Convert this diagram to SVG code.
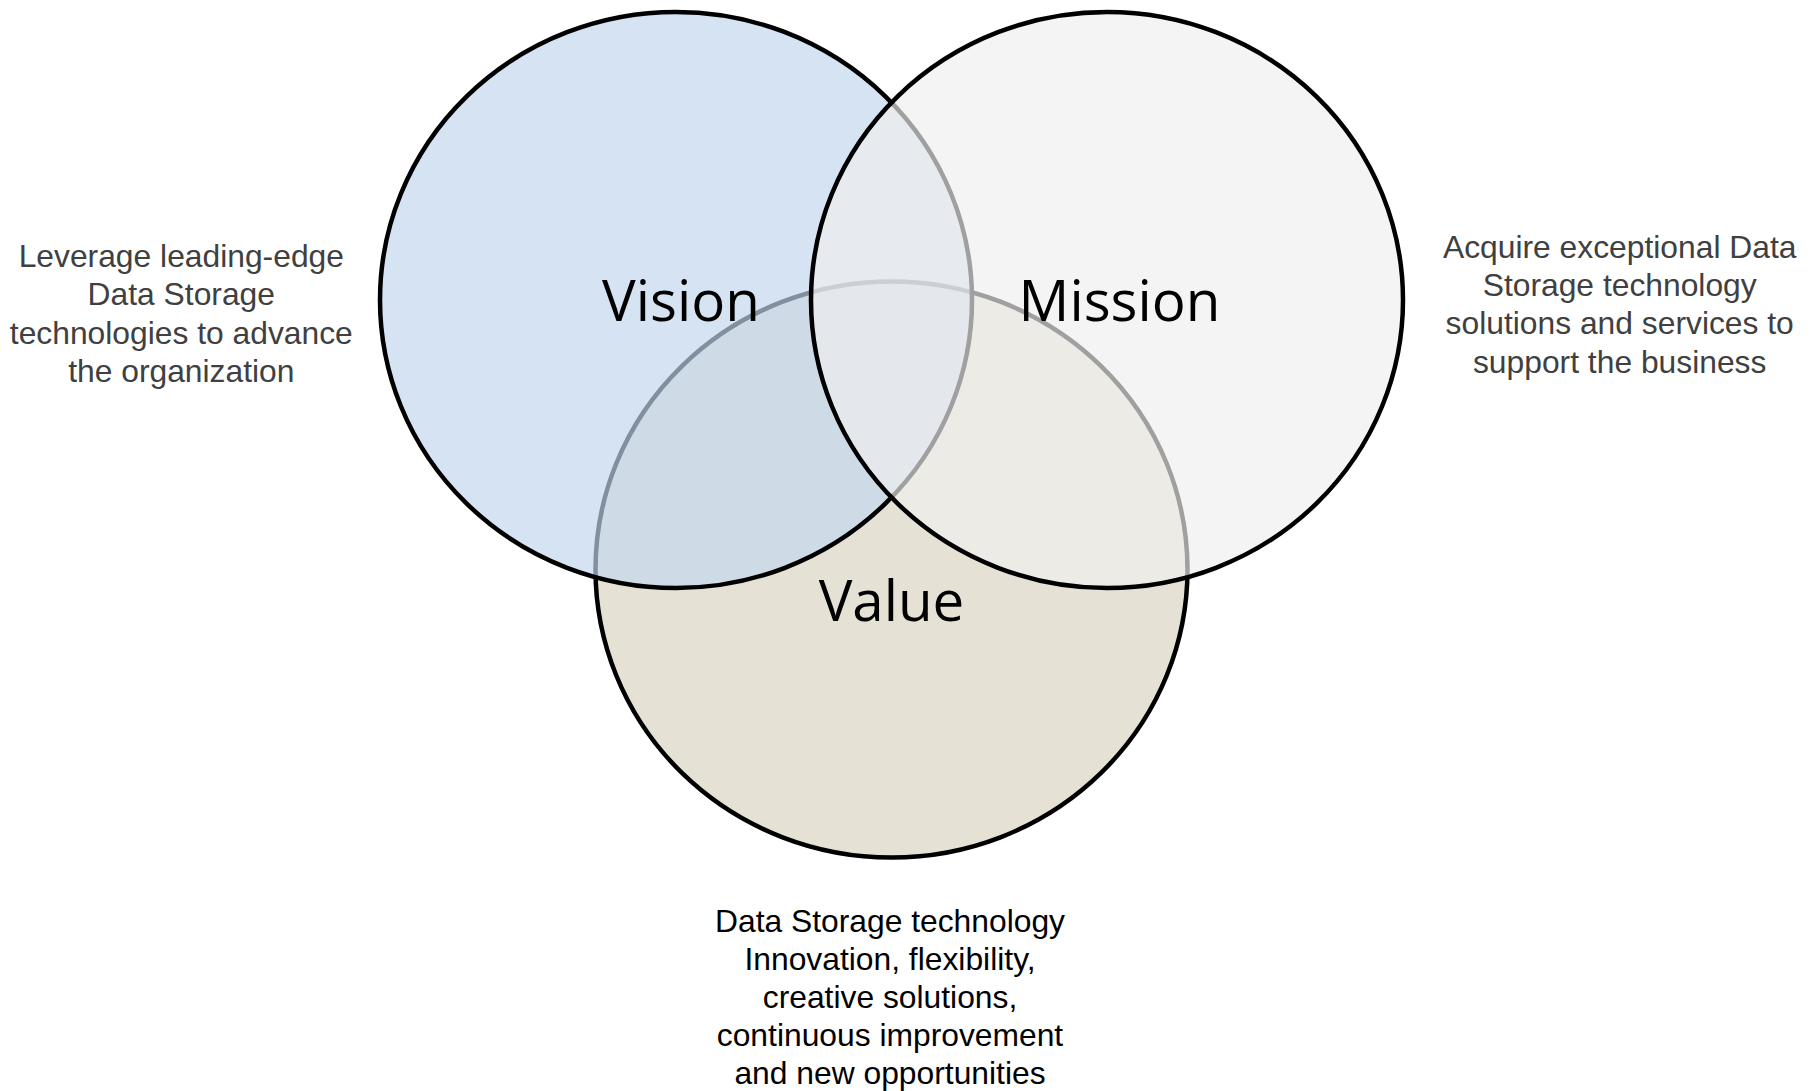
<svg xmlns="http://www.w3.org/2000/svg" width="1816" height="1091" viewBox="0 0 1816 1091">
  <style>
    .ring { stroke: #000000; stroke-width: 4.5; }
    .label { font-family: "Open Sans", "Noto Sans", sans-serif; font-size: 56.5px; fill: #000000; text-anchor: middle; }
    .desc { font-family: "Liberation Sans", Arial, sans-serif; font-size: 31.8px; fill: #404040; text-anchor: middle; }
    .descb { font-family: "Liberation Sans", Arial, sans-serif; font-size: 31.8px; fill: #000000; text-anchor: middle; }
  </style>
  <rect x="0" y="0" width="1816" height="1091" fill="#FFFFFF"/>
  <g id="connectors"/>
  <g id="value">
    <ellipse class="ring" cx="891.5" cy="569.5" rx="296" ry="288" fill="#E5E2D5"/>
    <text class="label" x="891.5" y="621">Value</text>
    <text class="descb" x="890" y="932">Data Storage technology</text>
    <text class="descb" x="890" y="970">Innovation, flexibility,</text>
    <text class="descb" x="890" y="1008">creative solutions,</text>
    <text class="descb" x="890" y="1046">continuous improvement</text>
    <text class="descb" x="890" y="1084">and new opportunities</text>
  </g>
  <g id="vision">
    <ellipse class="ring" cx="676" cy="300" rx="296" ry="288" fill="#C2D5ED" fill-opacity="0.67"/>
    <text class="label" x="681" y="321">Vision</text>
    <text class="desc" x="181.3" y="266.5">Leverage leading-edge</text>
    <text class="desc" x="181.3" y="305">Data Storage</text>
    <text class="desc" x="181.3" y="343.5">technologies to advance</text>
    <text class="desc" x="181.3" y="382">the organization</text>
  </g>
  <g id="mission">
    <ellipse class="ring" cx="1107" cy="300" rx="296" ry="288" fill="#EEEEEE" fill-opacity="0.67"/>
    <text class="label" x="1119.5" y="321">Mission</text>
    <text class="desc" x="1619.7" y="258">Acquire exceptional Data</text>
    <text class="desc" x="1619.7" y="296.2">Storage technology</text>
    <text class="desc" x="1619.7" y="334.4">solutions and services to</text>
    <text class="desc" x="1619.7" y="372.6">support the business</text>
  </g>
</svg>
